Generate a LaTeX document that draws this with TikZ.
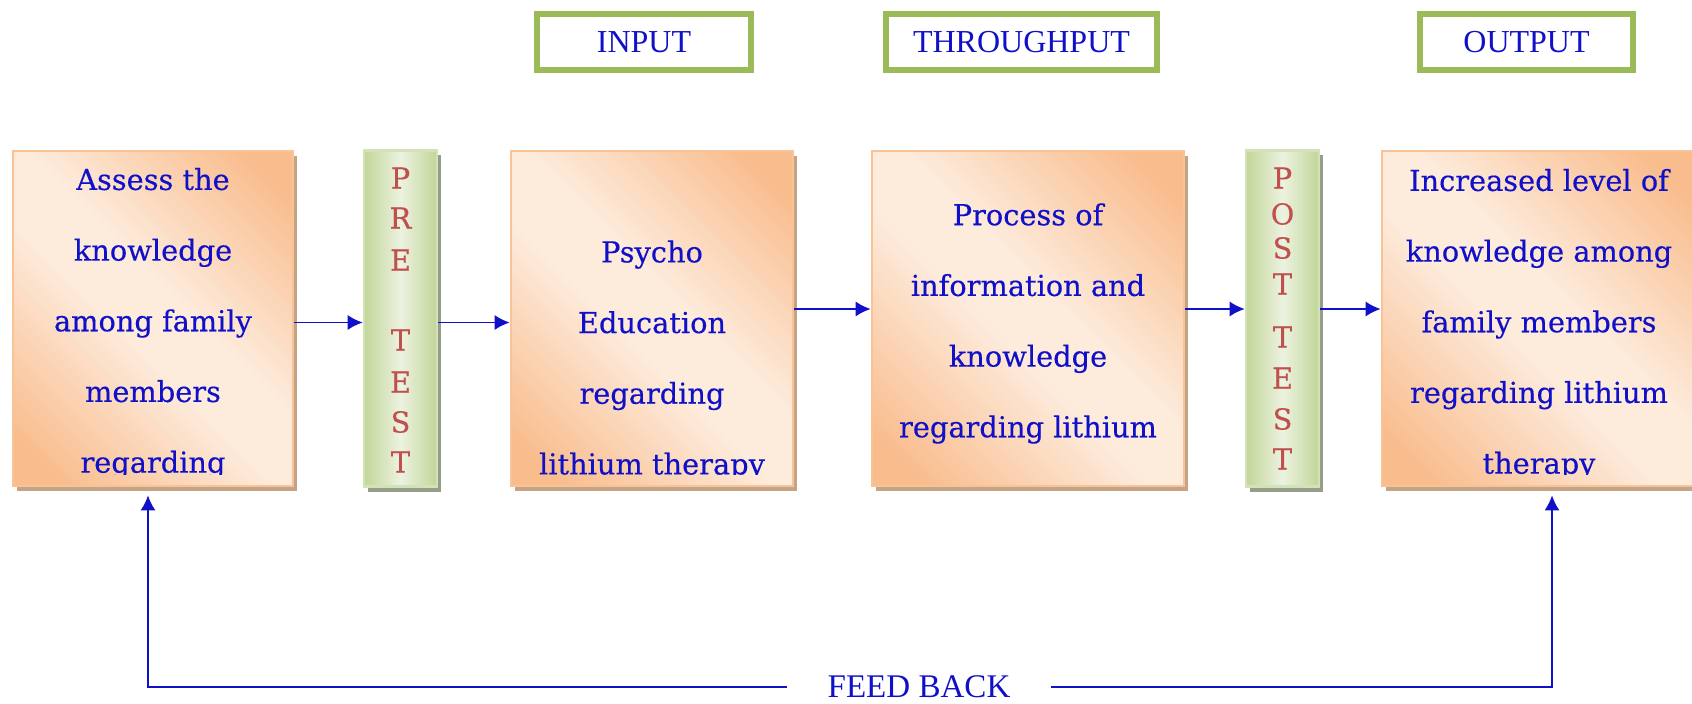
\documentclass[tikz,border=0pt]{standalone}
\usepackage{fontspec}
\usetikzlibrary{arrows.meta,shadows}
\newfontfamily\knowfont[FakeBold=0.3]{DejaVu Serif}
\newfontfamily\headfont{Liberation Serif}
\definecolor{orangedark}{RGB}{249,188,140}
\definecolor{orangelight}{RGB}{253,235,220}
\definecolor{orangeline}{RGB}{250,195,150}
\definecolor{orangeshadow}{RGB}{196,164,134}
\definecolor{greendark}{RGB}{194,214,152}
\definecolor{greenlight}{RGB}{236,242,224}
\definecolor{greenline}{RGB}{212,226,186}
\definecolor{greenshadow}{RGB}{150,158,138}
\definecolor{framegreen}{RGB}{155,187,89}
\definecolor{textblue}{RGB}{16,16,200}
\definecolor{testred}{RGB}{192,80,77}
% soft diagonal fill of the main boxes
\pgfdeclareverticalshading{knowshade}{100bp}{color(0bp)=(orangedark); color(20bp)=(orangedark);
    color(45bp)=(orangelight); color(55bp)=(orangelight); color(80bp)=(orangedark); color(100bp)=(orangedark)}

\begin{document}
\begin{tikzpicture}[x=0.01cm,y=-0.01cm,
    knowbox/.style={rectangle, draw=orangeline, line width=0.025cm,
        shading=knowshade, shading angle=-45, minimum height=3.35cm, inner sep=0pt,
        drop shadow={shadow xshift=0.04cm, shadow yshift=-0.05cm, fill=orangeshadow, opacity=1}},
    testbar/.style={rectangle, draw=greenline, line width=0.025cm,
        left color=greendark, right color=greendark, middle color=greenlight,
        minimum width=0.73cm, minimum height=3.36cm, inner sep=0pt,
        drop shadow={shadow xshift=0.04cm, shadow yshift=-0.05cm, fill=greenshadow, opacity=1}},
    headbox/.style={rectangle, draw=framegreen, line width=0.06cm, minimum height=0.56cm,
        text=textblue, font=\headfont\fontsize{9.1pt}{11pt}\selectfont},
    boxtext/.style={align=center, text=textblue, inner sep=0pt,
        font=\knowfont\fontsize{8.2pt}{20.1pt}\selectfont},
    testletter/.style={text=testred, inner sep=0pt, font=\knowfont\fontsize{8.2pt}{9pt}\selectfont},
    flow/.style={draw=textblue, line width=0.017cm, -{Latex[length=0.15cm,width=0.15cm]}},
    fbtext/.style={text=textblue, inner xsep=0.4cm, font=\headfont\fontsize{9.4pt}{11pt}\selectfont}
]
\useasboundingbox (0,0) rectangle (1692,703);

% stage headings
\node[headbox, minimum width=2.14cm] (hinput) at (644,42) {INPUT};
\node[headbox, minimum width=2.71cm] (hthroughput) at (1021.5,42) {THROUGHPUT};
\node[headbox, minimum width=2.13cm] (houtput) at (1526.5,42) {OUTPUT};

% main boxes, text clipped to the inner area
\node[knowbox, minimum width=2.80cm, path picture={
    \clip ([yshift=0.12cm]path picture bounding box.south west) rectangle (path picture bounding box.north east);
    \node[boxtext, yshift=-0.05cm] (assess-text) at (path picture bounding box.center)
        {Assess the\\knowledge\\among family\\members\\regarding};}] (assess) at (153,318.5) {};
\node[knowbox, minimum width=2.82cm, path picture={
    \clip ([yshift=0.12cm]path picture bounding box.south west) rectangle (path picture bounding box.north east);
    \node[boxtext, yshift=0.07cm] (psycho-text) at (path picture bounding box.center)
        {\strut\\Psycho\\Education\\regarding\\lithium therapy};}] (psycho) at (652,318.5) {};
\node[knowbox, minimum width=3.12cm, path picture={
    \clip ([yshift=0.12cm]path picture bounding box.south west) rectangle (path picture bounding box.north east);
    \node[boxtext, yshift=-0.05cm] (process-text) at (path picture bounding box.center)
        {Process of\\information and\\knowledge\\regarding lithium};}] (process) at (1028,318.5) {};
\node[knowbox, minimum width=3.14cm, path picture={
    \clip ([yshift=0.12cm]path picture bounding box.south west) rectangle (path picture bounding box.north east);
    \node[boxtext, yshift=-0.06cm] (result-text) at (path picture bounding box.center)
        {Increased level of\\knowledge among\\family members\\regarding lithium\\therapy};}] (result) at (1539,318.5) {};

% test bars
\node[testbar] (pre) at (400.5,318.5) {};
\node[testbar] (post) at (1282.5,318.5) {};
\foreach \ch/\yy [count=\i] in {P/178,R/218,E/260,T/340,E/382,S/422,T/462}
    \node[testletter] (pre-\i) at (400.5,\yy) {\ch};
\foreach \ch/\yy [count=\i] in {P/178,O/214,S/248,T/284,T/337,E/378,S/419,T/459}
    \node[testletter] (post-\i) at (1282.5,\yy) {\ch};

% flow
\draw[flow] ([yshift=-0.04cm]assess.east) -- ([yshift=-0.04cm]pre.west);
\draw[flow] ([yshift=-0.04cm]pre.east) -- ([yshift=-0.04cm]psycho.west);
\draw[flow] ([yshift=0.095cm]psycho.east) -- ([yshift=0.095cm]process.west);
\draw[flow] ([yshift=0.095cm]process.east) -- ([yshift=0.095cm]post.west);
\draw[flow] ([yshift=0.095cm]post.east) -- ([yshift=0.095cm]result.west);

% feed back loop
\node[fbtext] (feed) at (919,687) {FEED BACK};
\draw[flow] (feed.west) -| ([xshift=-0.05cm,yshift=-0.08cm]assess.south);
\draw[flow] (feed.east) -| ([xshift=0.13cm,yshift=-0.08cm]result.south);
\end{tikzpicture}
\end{document}
